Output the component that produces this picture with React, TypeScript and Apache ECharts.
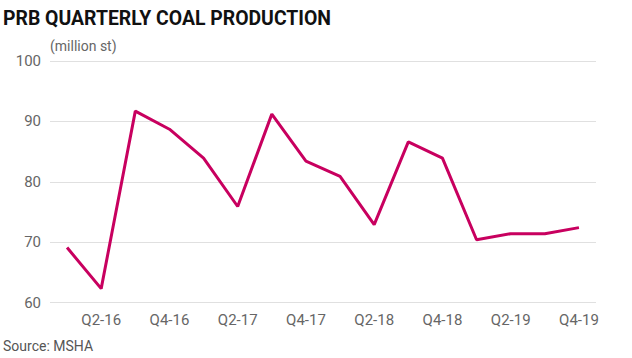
import React, { useEffect, useRef } from "react";
import * as echarts from "echarts";

const categories = [
  "Q1-16", "Q2-16", "Q3-16", "Q4-16",
  "Q1-17", "Q2-17", "Q3-17", "Q4-17",
  "Q1-18", "Q2-18", "Q3-18", "Q4-18",
  "Q1-19", "Q2-19", "Q3-19", "Q4-19",
];
const production = [
  69.1, 62.3, 91.7, 88.7,
  83.9, 75.9, 91.2, 83.4,
  80.9, 72.9, 86.6, 83.9,
  70.4, 71.4, 71.4, 72.4,
];
const titleText = "PRB QUARTERLY COAL PRODUCTION";
const unitText = "(million st)";
const sourceText = "Source: MSHA";

export default function App() {
  const ref = useRef<HTMLDivElement>(null);
  useEffect(() => {
    if (!ref.current) return;
    const chart = echarts.init(ref.current, undefined, { renderer: "svg" });
    chart.setOption({
      animation: false,
      backgroundColor: "#ffffff",
      grid: { left: 50, right: 36, top: 61, bottom: 55.5, containLabel: false },
      graphic: [
        {
          type: "text",
          left: 3,
          top: 8,
          scaleX: 0.97,
          style: {
            text: titleText,
            font: "bold 20px Roboto",
            fill: "#111111",
          },
        },
        {
          type: "text",
          left: 50,
          top: 39,
          style: {
            text: unitText,
            font: "14px Roboto",
            fill: "#666666",
          },
        },
        {
          type: "text",
          left: 3,
          top: 339,
          style: {
            text: sourceText,
            font: "14px Roboto",
            fill: "#555555",
          },
        },
      ],
      xAxis: {
        type: "category",
        data: categories,
        boundaryGap: true,
        axisLine: { show: false },
        axisTick: { show: false },
        splitLine: { show: false },
        axisLabel: {
          interval: (i: number) => i % 2 === 1,
          color: "#666666",
          fontSize: 15,
          fontFamily: "Roboto",
          margin: 10,
        },
      },
      yAxis: {
        type: "value",
        min: 60,
        max: 100,
        interval: 10,
        axisLine: { show: false },
        axisTick: { show: false },
        axisLabel: {
          color: "#666666",
          fontSize: 15,
          fontFamily: "Roboto",
          margin: 9,
        },
        splitLine: { lineStyle: { color: "#e0e0e0", width: 1 } },
      },
      series: [
        {
          type: "line",
          data: production,
          symbol: "none",
          lineStyle: { color: "#c8005f", width: 3 },
          itemStyle: { color: "#c8005f" },
        },
      ],
    });
    return () => chart.dispose();
  }, []);
  return <div ref={ref} style={{ width: 632, height: 358, position: "absolute", left: 0, top: 0 }} />;
}
